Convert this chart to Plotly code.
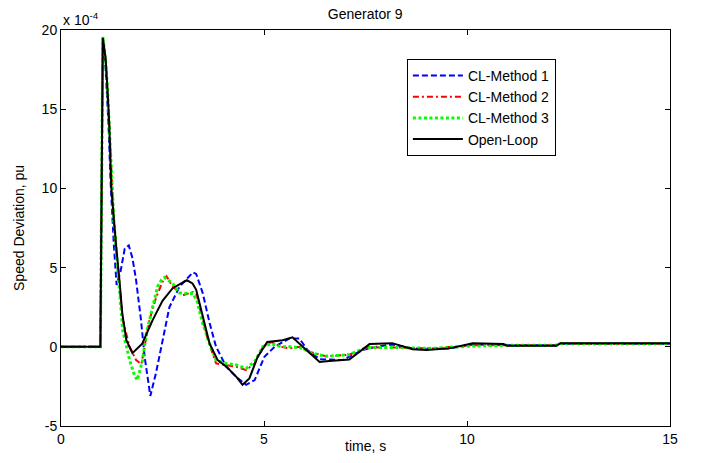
import plotly.graph_objects as go

# ---- data (speed deviation in units of 1e-4 pu) ----
t_cl1 = [0, 0.97, 1.03, 1.10, 1.17, 1.22, 1.30, 1.37, 1.47, 1.57, 1.67, 1.76, 1.85, 1.97, 2.06, 2.2, 2.34,
         2.5, 2.67, 2.92, 3.25, 3.33, 3.49, 3.66, 3.82, 4.07, 4.32, 4.56, 4.77, 5.01, 5.26, 5.63, 5.87,
         6.07, 6.37, 6.93, 7.43, 7.77, 8.16, 8.66, 9.0, 9.57, 10.14, 11.0, 12.2, 12.3, 15]
v_cl1 = [0, 0, 19.3, 17.5, 14.0, 10.5, 6.5, 3.9, 4.8, 6.2, 6.4, 5.6, 4.2, 1.7, -0.63, -3.1, -1.65,
         0.4, 2.5, 3.8, 4.7, 4.6, 3.4, 1.5, 0, -1.26, -1.9, -2.4, -2.1, -0.63, 0, 0.53, 0.53,
         -0.2, -0.78, -0.84, -0.2, 0, 0.15, -0.1, -0.15, -0.1, 0.15, 0.1, 0.1, 0.2, 0.2]

t_cl2 = [0, 0.97, 1.03, 1.10, 1.15, 1.20, 1.25, 1.30, 1.37, 1.44, 1.52, 1.69, 1.85, 1.98, 2.06, 2.18,
         2.34, 2.5, 2.6, 2.75, 3.0, 3.25, 3.33, 3.45, 3.62, 3.82, 4.07, 4.32, 4.56, 4.77, 4.97, 5.18,
         5.42, 5.63, 5.87, 6.08, 6.53, 7.1, 7.52, 8.34, 9.15, 10.14, 11.0, 12.2, 12.3, 15]
v_cl2 = [0, 0, 19.5, 18.0, 16.0, 13.5, 10.5, 8.0, 5.8, 3.8, 1.7, 0, -0.84, -1.1, 0, 1.7,
         3.1, 4.1, 4.45, 3.8, 3.25, 3.46, 3.36, 2.1, 0.42, -1.05, -1.15, -1.26, -1.47, -1.05, 0, 0.3,
         0, -0.1, 0, -0.3, -0.6, -0.5, -0.05, -0.05, -0.1, 0.1, 0.1, 0.1, 0.2, 0.2]

t_cl3 = [0, 0.97, 1.03, 1.10, 1.15, 1.20, 1.25, 1.30, 1.37, 1.44, 1.52, 1.69, 1.81, 1.88, 2.01, 2.1,
         2.26, 2.38, 2.47, 2.55, 2.75, 2.92, 3.25, 3.35, 3.49, 3.66, 3.82, 4.07, 4.32, 4.56, 4.77,
         4.97, 5.18, 5.42, 5.71, 5.96, 6.12, 6.5, 7.1, 7.52, 8.34, 9.15, 10.14, 11.0, 12.2, 12.3, 15]
v_cl3 = [0, 0, 19.6, 18.0, 16.0, 13.5, 10.5, 8.0, 5.8, 3.3, 1.05, -0.84, -1.8, -2.1, -0.84, 0.84,
         2.5, 3.8, 4.2, 4.37, 4.0, 3.4, 3.36, 2.9, 1.47, 0.2, -0.84, -1.05, -1.15, -1.36, -0.94,
         0, 0.2, 0, 0, -0.1, -0.35, -0.6, -0.5, -0.05, -0.05, -0.1, 0.05, 0.1, 0.1, 0.2, 0.2]

t_ol = [0, 0.97, 1.03, 1.10, 1.15, 1.19, 1.24, 1.29, 1.36, 1.44, 1.51, 1.61, 1.76, 2.0, 2.26, 2.5,
        2.75, 3.1, 3.24, 3.33, 3.49, 3.66, 3.86, 4.08, 4.32, 4.47, 4.64, 4.84, 5.08, 5.46, 5.7,
        5.95, 6.04, 6.37, 6.61, 7.1, 7.6, 8.16, 8.66, 9.0, 9.57, 10.14, 10.9, 11.0, 12.2, 12.3, 15]
v_ol = [0, 0, 19.5, 18.2, 16.0, 14.0, 10.0, 8.4, 6.3, 4.2, 2.1, 0.42, -0.4, 0.2, 1.7, 2.9,
        3.7, 4.2, 4.0, 3.6, 1.9, 0.2, -0.84, -1.27, -1.9, -2.4, -2.0, -0.66, 0.3, 0.42, 0.6,
        0, -0.2, -0.96, -0.9, -0.8, 0.17, 0.23, -0.15, -0.2, -0.1, 0.23, 0.17, 0.06, 0.06, 0.23, 0.23]

x_ticks = [0, 5, 10, 15]
y_ticks = [-5, 0, 5, 10, 15, 20]

FONT = "Liberation Sans, Arial, sans-serif"

fig = go.Figure()
fig.add_trace(go.Scatter(x=t_cl1, y=v_cl1, mode="lines", name="CL-Method 1",
                         line=dict(color="#0000ff", width=2, dash="6px,3px")))
fig.add_trace(go.Scatter(x=t_cl2, y=v_cl2, mode="lines", name="CL-Method 2",
                         line=dict(color="#ff0000", width=2, dash="6px,3px,2px,3px")))
fig.add_trace(go.Scatter(x=t_cl3, y=v_cl3, mode="lines", name="CL-Method 3",
                         line=dict(color="#00ff00", width=3, dash="3px,2.5px")))
fig.add_trace(go.Scatter(x=t_ol, y=v_ol, mode="lines", name="Open-Loop",
                         line=dict(color="#000000", width=2)))

axis_common = dict(showline=True, linecolor="black", linewidth=1, mirror="ticks",
                   ticks="inside", ticklen=5, tickcolor="black", showgrid=False, zeroline=False,
                   automargin=False,
                   tickfont=dict(family=FONT, size=14, color="black"))

fig.update_layout(
    width=705, height=463,
    margin=dict(l=61, r=35, t=30, b=37),
    paper_bgcolor="white", plot_bgcolor="white",
    font=dict(family=FONT, color="black"),
    title=dict(text="Generator 9", x=0.518, xanchor="center", yref="container", y=0.97,
               yanchor="middle", font=dict(family=FONT, size=14, color="black")),
    xaxis=dict(range=[0, 15], tickvals=x_ticks, ticktext=[str(v) for v in x_ticks], **axis_common),
    yaxis=dict(range=[-5, 20], tickvals=y_ticks, ticktext=[str(v) for v in y_ticks], **axis_common),
    legend=dict(x=0.568, y=0.927, xanchor="left", yanchor="top",
                bgcolor="white", bordercolor="black", borderwidth=1,
                font=dict(family=FONT, size=14, color="black"),
                tracegroupgap=0, itemwidth=50),
    showlegend=True,
)

fig.add_annotation(text="x 10<sup>-4</sup>", xref="paper", yref="paper", x=0, y=1,
                   xanchor="left", yanchor="bottom", yshift=0, showarrow=False,
                   font=dict(family=FONT, size=14, color="black"))
fig.add_annotation(text="time, s", xref="paper", yref="paper", x=0.5, y=-0.05,
                   xanchor="center", yanchor="middle", showarrow=False,
                   font=dict(family=FONT, size=14, color="black"))
fig.add_annotation(text="Speed Deviation, pu", xref="paper", yref="paper", x=-0.069, y=0.5,
                   xanchor="center", yanchor="middle", textangle=-90, showarrow=False,
                   font=dict(family=FONT, size=14, color="black"))

fig.write_html("out.html", config={"displayModeBar": False},
               post_script="document.body.style.margin='0';")
